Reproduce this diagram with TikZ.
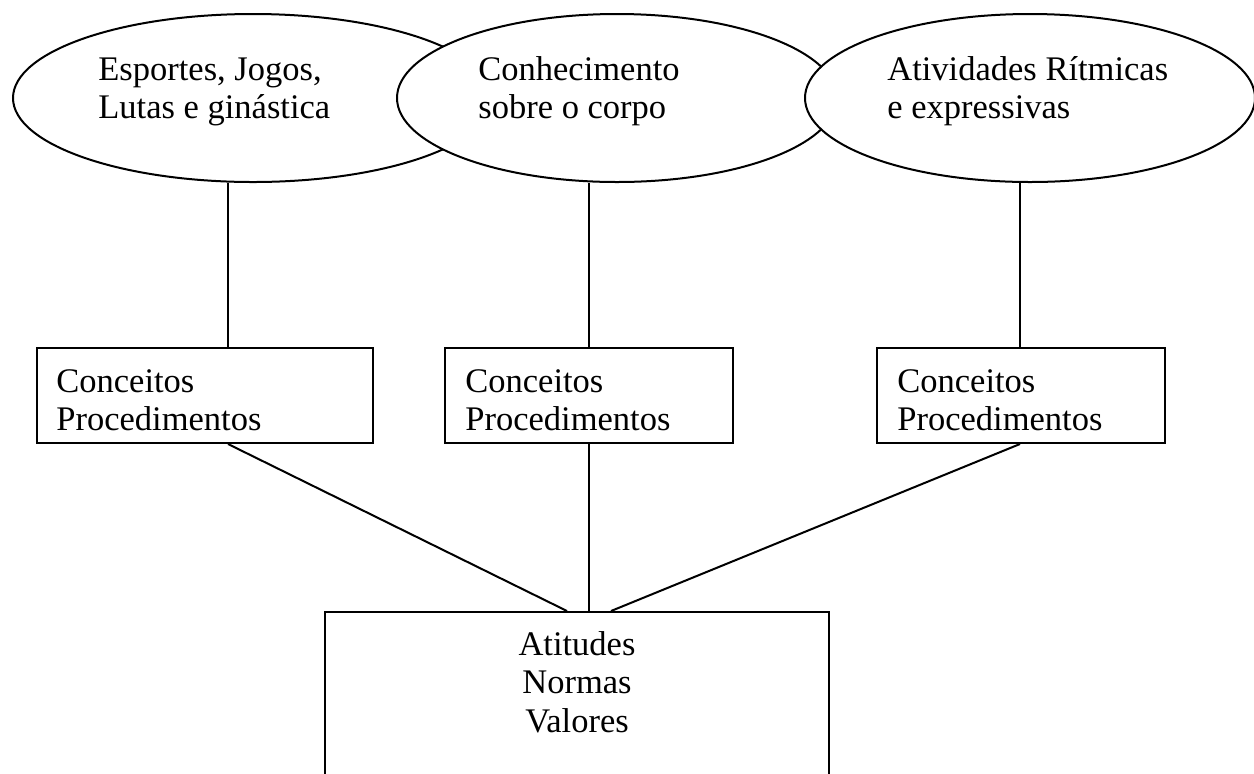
\documentclass[tikz,border=0pt]{standalone}
\usepackage{fontspec}
\setmainfont{Liberation Serif}
\usetikzlibrary{shapes.geometric}

\tikzset{
  ell/.style={draw,ellipse,fill=white,line width=1pt,inner sep=0pt,minimum height=84pt},
  box/.style={draw,rectangle,line width=1pt,inner sep=0pt},
  txt/.style={inner sep=0pt,anchor=north west,align=left},
  link/.style={line width=1pt}
}

\begin{document}
\begin{tikzpicture}[x=0.5pt,y=-0.5pt,font=\fontsize{17.25}{19.25}\selectfont]
      \path[use as bounding box,clip] (0,0) rectangle (1254,773);

      \node[ell,minimum width=240pt] (E) at (253,98){};
      \node[ell,minimum width=220pt] (C) at (617,98){};
      \node[ell,minimum width=225pt] (A) at (1030,98){};
      \node[txt] (tE) at (98,53){\strut Esportes, Jogos,\\Lutas e ginástica};
      \node[txt] (tC) at (478,53){\strut Conhecimento\\sobre o corpo};
      \node[txt] (tA) at (887,53){\strut Atividades Rítmicas\\e expressivas};

      \node[box,minimum width=168pt,minimum height=47.5pt] (B1) at (205,395.5){};
      \node[box,minimum width=144pt,minimum height=47.5pt] (B2) at (589,395.5){};
      \node[box,minimum width=144pt,minimum height=47.5pt] (B3) at (1021,395.5){};
      \node[txt] (tB1) at (56,365){\strut Conceitos\\Procedimentos};
      \node[txt] (tB2) at (465,365){\strut Conceitos\\Procedimentos};
      \node[txt] (tB3) at (897,365){\strut Conceitos\\Procedimentos};

      \node[box,minimum width=252pt,minimum height=94pt] (V) at (577,706){};
      \node[txt,anchor=north,align=center] (tV) at (577,628){\strut Atitudes\\Normas\\Valores};

      \coordinate (s1) at (228,0);
      \coordinate (s2) at (589,0);
      \coordinate (s3) at (1020,0);
      \coordinate (j1) at (567,0);
      \coordinate (j3) at (611,0);

      \draw[link] (E.south -| s1) -- (B1.north -| s1);
      \draw[link] (C.south -| s2) -- (B2.north -| s2);
      \draw[link] (A.south -| s3) -- (B3.north -| s3);
      \draw[link] (B1.south -| s1) -- (V.north -| j1);
      \draw[link] (B2.south -| s2) -- (V.north -| s2);
      \draw[link] (B3.south -| s3) -- (V.north -| j3);
    \end{tikzpicture}
\end{document}
